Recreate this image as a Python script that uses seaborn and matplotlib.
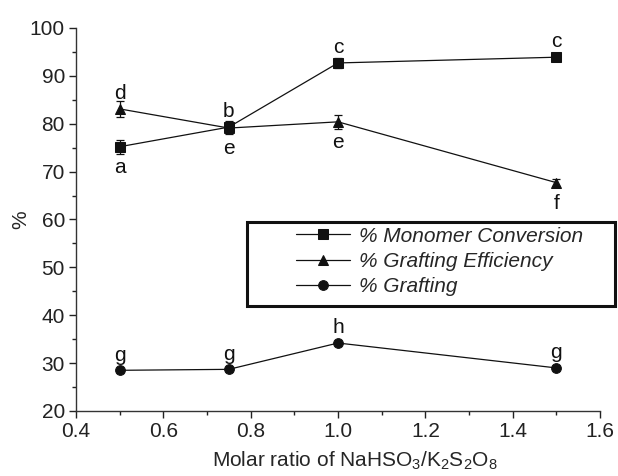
import matplotlib
matplotlib.use("Agg")
import matplotlib.pyplot as plt
import seaborn as sns
from matplotlib.ticker import MultipleLocator
from matplotlib.patches import Rectangle

# data
ratio = [0.5, 0.75, 1.0, 1.5]
monomer_conv = [75.2, 79.3, 92.7, 93.9]
monomer_err = [1.5, 1.3, 1.0, 0.5]
graft_eff = [83.1, 79.1, 80.4, 67.7]
graft_eff_err = [1.7, 1.2, 1.4, 0.7]
grafting = [28.5, 28.7, 34.2, 29.0]
grafting_err = [0.3, 0.3, 0.3, 0.3]

# significance letters (label, above the point?)
monomer_letters = [("a", False), ("b", True), ("c", True), ("c", True)]
eff_letters = [("d", True), ("e", False), ("e", False), ("f", False)]
grafting_letters = [("g", True), ("g", True), ("h", True), ("g", True)]

series_names = ["% Monomer Conversion", "% Grafting Efficiency", "% Grafting"]

sns.set_style("ticks")
plt.rcParams["font.family"] = ["Liberation Sans", "DejaVu Sans"]
plt.rcParams["mathtext.default"] = "regular"

FS = 15

fig = plt.figure(figsize=(6.18, 4.76), dpi=100)
ax = fig.add_axes([76 / 618, 1 - 411 / 476, 524 / 618, 383 / 476])

styles = [("s", 6.5), ("^", 7.5), ("o", 7)]
all_vals = [(monomer_conv, monomer_err), (graft_eff, graft_eff_err),
            (grafting, grafting_err)]
for name, (vals, errs), (mk, ms) in zip(series_names, all_vals, styles):
    sns.lineplot(x=ratio, y=vals, label=name, marker=mk, markersize=ms,
                 color="#111111", markeredgecolor="#111111", linewidth=0.9,
                 ax=ax)
    ax.errorbar(ratio, vals, yerr=errs, fmt="none", ecolor="#111111",
                elinewidth=0.9, capsize=2.8, capthick=0.9)

def put_letters(vals, letters):
    for x, y, (lab, above) in zip(ratio, vals, letters):
        off = 11 if above else -15
        ax.annotate(lab, (x, y), xytext=(0, off), textcoords="offset points",
                    ha="center", va="center", fontsize=FS, color="#111111")

put_letters(monomer_conv, monomer_letters)
put_letters(graft_eff, eff_letters)
put_letters(grafting, grafting_letters)

ax.set_xlim(0.4, 1.6)
ax.set_ylim(20, 100)
ax.xaxis.set_minor_locator(MultipleLocator(0.1))
ax.yaxis.set_major_locator(MultipleLocator(10))
ax.yaxis.set_minor_locator(MultipleLocator(5))
ax.set_xticks([0.4, 0.6, 0.8, 1.0, 1.2, 1.4, 1.6])
ax.set_xticklabels(["0.4", "0.6", "0.8", "1.0", "1.2", "1.4", "1.6"])
ax.tick_params(which="major", direction="out", length=5, width=1,
               labelsize=FS, colors="#222222", pad=3)
ax.tick_params(which="minor", direction="out", length=3, width=1,
               colors="#222222")
sns.despine(ax=ax)
for s in ["left", "bottom"]:
    ax.spines[s].set_color("#333333")
    ax.spines[s].set_linewidth(1)

ax.set_xlabel("Molar ratio of NaHSO$_3$/K$_2$S$_2$O$_8$", fontsize=FS)
ax.xaxis.set_label_coords(0.532, -0.1)
ax.set_ylabel("%", fontsize=FS)
ax.yaxis.set_label_coords(-0.088, 0.5)

# legend box frame, drawn in axes fraction
frame = Rectangle((0.326, 0.274), 0.702, 0.219, transform=ax.transAxes,
                  fill=False, edgecolor="#111111", linewidth=2.2,
                  clip_on=False, zorder=5)
ax.add_patch(frame)
leg = ax.legend(loc="upper left", bbox_to_anchor=(0.42, 0.481),
                prop={"style": "italic", "size": FS}, frameon=False,
                handlelength=2.6, handletextpad=0.4, labelspacing=0.29,
                borderpad=0.0, borderaxespad=0)

fig.savefig("out.png", dpi=100)
